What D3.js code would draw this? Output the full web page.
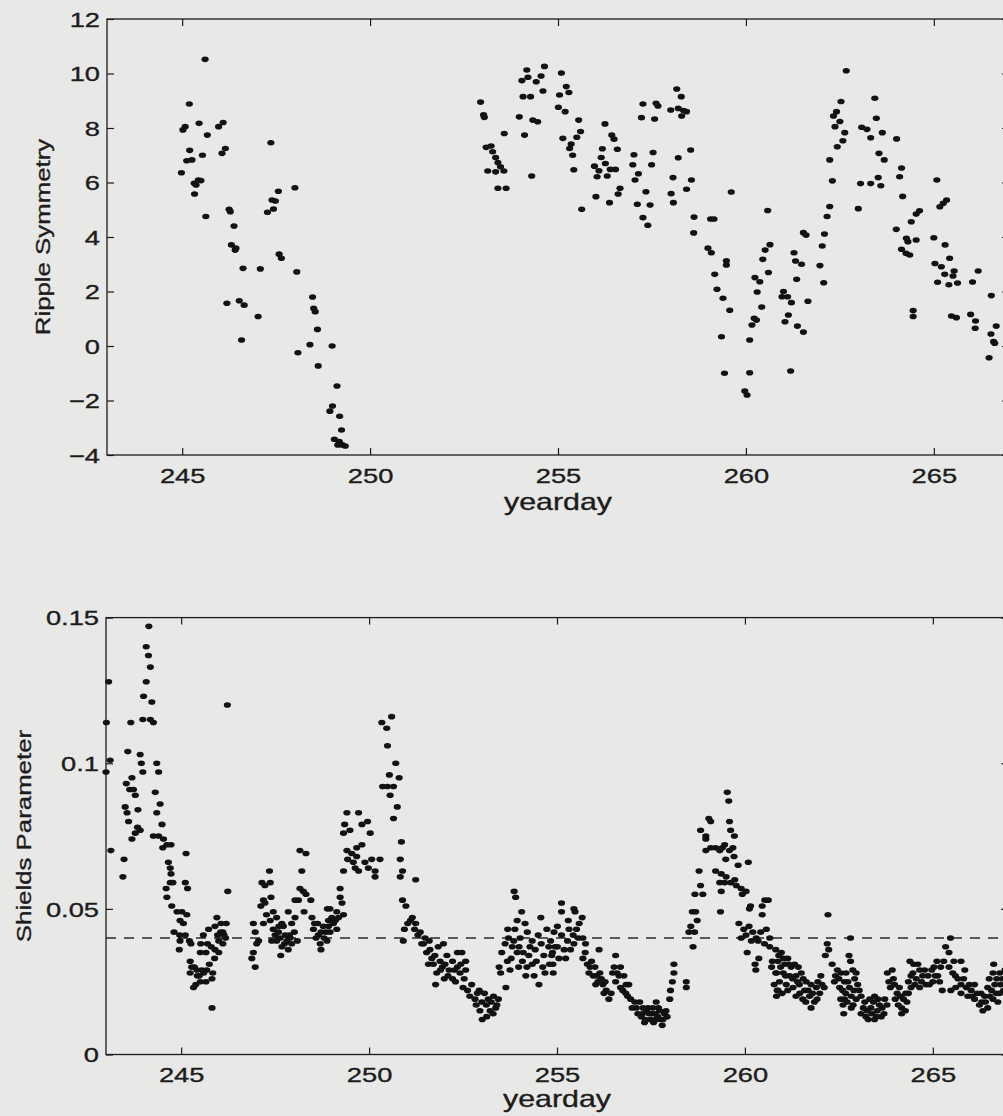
<!DOCTYPE html>
<html>
<head>
<meta charset="utf-8">
<title>Ripple Symmetry and Shields Parameter</title>
<script src="https://cdn.jsdelivr.net/npm/d3@7"></script>
<style>
    body { margin: 0; background: #e8e8e6; }
    svg text { font-family: "Liberation Sans", Arial, Helvetica, sans-serif; fill: #1c1c1c; stroke: #1c1c1c; stroke-width: 0.35px; }
</style>
</head>
<body>
<svg id="chart" width="1003" height="1116"></svg>
<script>

// ---- data: [yearday, value] ----
var dayDomain = [243, 267];
var dayTicks = [245, 250, 255, 260, 265];

var rippleTicks = [-4, -2, 0, 2, 4, 6, 8, 10, 12];
var rippleData = [
    [245.19,8.88],[245.02,7.93],[245.08,8.05],[245.45,8.17],[245.97,8.05],[246.09,8.2],[245.67,7.74],[247.36,7.46],
    [245.2,7.18],[245.54,7.0],[246.15,7.25],[246.06,7.07],[245.12,6.8],[245.26,6.83],[244.98,6.36],[245.32,5.97],
    [245.43,6.09],[245.5,6.07],[245.37,5.91],[245.33,5.58],[247.56,5.68],[248.0,5.81],[247.39,5.36],[247.48,5.32],
    [247.43,5.03],[247.27,4.91],[246.25,5.02],[246.28,4.93],[245.63,4.75],[246.38,4.4],[246.31,3.71],[246.43,3.59],
    [246.41,3.52],[247.58,3.37],[247.64,3.22],[246.62,2.85],[247.08,2.83],[248.05,2.72],[248.47,1.8],[248.5,1.38],
    [248.54,1.26],[246.19,1.57],[246.52,1.66],[246.65,1.5],[247.02,1.08],[248.6,0.61],[246.58,0.22],[248.4,0.05],
    [248.99,0.0],[248.08,-0.25],[248.62,-0.73],[249.12,-1.47],[249.0,-2.2],[248.93,-2.39],[249.19,-2.58],[249.24,-3.08],
    [249.05,-3.42],[249.18,-3.51],[249.26,-3.63],[249.34,-3.67],[249.14,-3.63],[245.61,10.52],
    [252.94,8.95],[253.02,8.48],[253.04,8.39],[253.57,7.8],[254.11,7.74],
    [253.09,7.29],[253.22,7.34],[253.26,7.13],[253.34,6.92],[253.4,6.73],[253.47,6.58],[253.56,6.42],[253.13,6.42],[253.34,6.39],
    [253.4,5.79],[253.62,5.79],[254.3,6.24],
    [254.17,10.13],[254.64,10.26],[254.04,9.74],[254.2,9.86],[254.42,9.7],[254.55,9.91],[255.09,10.02],[254.07,9.15],
    [254.27,9.15],[254.6,9.36],[255.04,9.21],[255.22,9.52],[255.29,9.3],[253.97,8.41],[254.33,8.29],[254.46,8.23],
    [255.01,8.76],[255.19,8.6],
    [255.55,8.29],[255.6,7.87],[255.5,7.66],[255.13,7.62],[255.35,7.41],[255.31,7.25],[255.39,7.0],[255.42,6.47],[255.63,5.02],
    [256.25,8.15],[256.43,7.74],[256.49,7.59],[256.18,7.24],[256.58,7.22],
    [256.15,6.92],[256.26,6.7],[255.97,6.6],[256.09,6.43],[256.39,6.48],[256.53,6.48],[256.04,6.21],[256.31,6.24],
    [256.65,5.79],[256.6,5.58],[256.01,5.48],[256.37,5.26],
    [257.02,7.02],[257.53,7.1],[256.99,6.65],[257.49,6.65],[257.14,6.32],[257.05,6.09],[257.34,5.66],[257.11,5.2],
    [257.45,5.17],[257.26,4.71],[257.39,4.43],
    [257.26,8.88],[257.61,8.91],[257.66,8.81],[257.22,8.38],[257.57,8.33],
    [258.16,9.43],[258.28,9.15],[258.0,8.66],[258.2,8.72],[258.34,8.64],[258.42,8.6],[258.29,8.44],
    [258.53,7.19],[258.2,6.91],[258.06,6.18],[258.55,6.09],[258.42,5.75],[258.01,5.59],[258.07,5.26],[258.62,4.73],[258.61,4.15],
    [259.06,4.66],[259.15,4.66],[258.99,3.59],[259.08,3.42],[259.48,3.13],[259.48,2.97],[259.61,5.65],[259.17,2.63],
    [259.23,2.08],[259.39,1.75],[259.57,1.31],[259.35,0.34],[259.43,-1.0],[260.1,-0.98],[259.97,-1.65],[260.03,-1.8],
    [260.1,0.22],[260.16,0.77],[260.28,0.95],[260.22,1.02],[260.42,1.43],[260.3,1.98],[260.24,2.51],[260.37,2.36],
    [260.6,2.7],[260.45,3.18],[260.51,3.52],[260.64,3.72],[260.58,4.97],
    [261.0,2.0],[260.96,1.81],[261.11,1.81],[261.21,1.59],[261.13,1.14],[261.04,0.89],[261.37,0.73],[261.53,0.51],
    [261.19,-0.92],[261.35,2.45],[261.28,3.42],[261.32,3.12],[261.48,3.0],[261.65,1.64],[261.53,4.16],[261.6,4.07],
    [261.97,2.95],[262.07,2.32],[262.03,3.67],[262.09,4.11],[262.16,4.75],[262.23,5.12],[262.3,6.06],[262.23,6.83],
    [262.43,7.31],[262.58,7.53],[262.63,7.83],[262.37,8.05],[262.5,8.24],[262.41,8.6],[262.33,8.44],[262.53,8.97],[262.67,10.1],
    [262.99,5.04],[263.05,5.96],[263.32,5.96],[263.59,5.88],[263.52,6.18],
    [263.08,8.03],[263.22,7.95],[263.32,7.64],[263.43,9.09],[263.47,8.36],[263.63,7.83],[263.54,7.07],[263.68,6.83],
    [264.01,7.6],[264.14,6.53],[264.09,6.21],[264.17,5.49],[264.0,4.28],[264.4,4.56],[264.53,4.84],[264.62,4.96],
    [264.27,3.95],[264.31,3.83],[264.53,3.89],[264.14,3.55],[264.26,3.4],[264.36,3.34],[264.45,1.3],[264.45,1.08],
    [265.08,6.09],[265.25,5.24],[265.34,5.36],[265.16,5.11],[265.0,3.97],[265.3,3.71],[265.42,3.22],[265.03,3.03],
    [265.2,2.91],[265.29,2.63],[265.54,2.75],[265.51,2.57],[265.1,2.34],[265.4,2.25],[265.63,2.31],[266.03,2.35],
    [266.18,2.75],[265.47,1.1],[265.6,1.04],[265.98,1.16],[266.11,0.92],[266.1,0.65],[266.53,1.85],[266.66,0.73],
    [266.52,0.44],[266.59,0.16],[266.62,0.1],[266.47,-0.43]
];

var shieldsTicks = [0, 0.05, 0.1, 0.15];
var shieldsThreshold = 0.04;
var shieldsData = [
    [243.07,0.128],[243.01,0.114],[243.11,0.101],[243.0,0.097],[243.13,0.070],[243.48,0.067],[243.45,0.061],
    [243.66,0.114],[243.58,0.104],[243.91,0.103],[243.94,0.100],[243.98,0.097],
    [243.54,0.093],[243.69,0.095],[243.73,0.091],[243.78,0.089],[243.63,0.091],
    [243.51,0.085],[243.56,0.083],[243.85,0.084],
    [243.60,0.080],[243.84,0.078],[243.91,0.077],[243.69,0.074],[243.78,0.076],
    [244.14,0.147],[244.07,0.140],[244.13,0.137],[244.18,0.133],[244.07,0.128],[244.0,0.123],[244.22,0.121],
    [243.98,0.115],[244.18,0.115],[244.26,0.114],
    [244.35,0.100],[244.40,0.097],[244.31,0.090],[244.44,0.086],[244.35,0.083],
    [244.49,0.079],[244.26,0.075],[244.40,0.075],[244.53,0.074],[244.62,0.072],[244.73,0.072],[244.51,0.071],
    [244.66,0.066],[244.71,0.064],[244.73,0.062],
    [245.13,0.069],[245.11,0.059],[245.17,0.057],
    [244.71,0.059],[244.60,0.057],[244.62,0.054],[244.78,0.059],
    [244.75,0.051],[244.89,0.049],[245.02,0.049],[245.15,0.048],[244.97,0.046],[245.06,0.045],
    [246.23,0.120],[246.24,0.056],
    [244.81,0.042],[244.96,0.041],[245.11,0.041],[245.22,0.039],[244.97,0.039],[245.26,0.038],[244.95,0.036],
    [245.95,0.047],
    [245.73,0.043],[245.90,0.044],[246.06,0.045],[246.20,0.045],[246.11,0.042],[245.97,0.041],[246.14,0.041],[246.0,0.039],
    [245.59,0.041],[245.52,0.038],[245.70,0.038],[245.51,0.035],[245.66,0.035],[245.90,0.036],[246.11,0.038],
    [245.24,0.032],[245.28,0.030],[245.42,0.029],[245.55,0.029],[245.24,0.028],[245.43,0.027],[245.68,0.029],
    [245.84,0.028],[245.82,0.026],[245.66,0.025],[245.51,0.025],[245.33,0.023],[245.39,0.024],
    [245.82,0.016],[245.89,0.033],[246.0,0.035],
    [245.35,0.030],[245.48,0.027],[245.60,0.028],[245.75,0.031],[245.80,0.037],[246.05,0.042],[246.18,0.040],
    [246.92,0.045],[246.97,0.042],[247.06,0.039],[247.01,0.038],[246.92,0.035],[246.88,0.033],[246.97,0.030],
    [247.35,0.063],[247.15,0.059],[247.23,0.058],[247.37,0.059],
    [247.19,0.053],[247.12,0.051],[247.23,0.052],[247.39,0.054],
    [247.45,0.049],[247.27,0.048],[247.37,0.046],[247.19,0.045],
    [247.54,0.047],[247.68,0.045],[247.85,0.049],[248.03,0.047],[247.94,0.045],
    [247.45,0.043],[247.59,0.042],[247.72,0.044],[247.77,0.041],[247.63,0.040],[247.81,0.039],[247.94,0.038],
    [247.68,0.037],[247.54,0.039],[247.41,0.039],[248.09,0.039],[247.88,0.041],[248.01,0.042],[247.65,0.034],[247.85,0.036],
    [247.50,0.041],[247.60,0.044],[247.75,0.038],[247.90,0.040],
    [248.16,0.070],[248.32,0.069],[248.21,0.063],
    [248.16,0.057],[248.25,0.056],[248.12,0.053],[248.03,0.053],[248.32,0.055],[248.45,0.053],
    [248.27,0.049],
    [248.48,0.047],[248.63,0.045],[248.52,0.043],[248.72,0.042],[248.59,0.040],[248.80,0.040],[248.70,0.038],
    [248.72,0.036],[248.89,0.050],[248.92,0.046],
    [248.55,0.045],[248.65,0.041],[248.78,0.044],[248.85,0.042],
    [249.23,0.057],[249.23,0.054],[248.96,0.050],[249.14,0.049],[249.01,0.047],[249.19,0.047],[249.05,0.045],
    [248.92,0.044],[249.14,0.043],[248.96,0.042],[248.88,0.039],
    [249.10,0.046],[249.28,0.052],[249.32,0.048],
    [249.41,0.083],[249.72,0.083],[249.96,0.080],[249.35,0.079],[249.49,0.077],[249.81,0.079],[250.03,0.076],[249.32,0.076],
    [249.41,0.070],[249.54,0.069],[249.67,0.071],[249.81,0.072],[249.67,0.068],[249.58,0.066],[249.43,0.067],
    [249.72,0.063],[249.32,0.063],[250.07,0.067],[250.29,0.067],[250.16,0.063],[249.89,0.066],[249.98,0.064],
    [249.63,0.064],[250.16,0.061],
    [250.60,0.116],[250.34,0.114],[250.47,0.112],[250.49,0.106],[250.71,0.100],[250.54,0.096],[250.80,0.095],
    [250.36,0.092],[250.49,0.092],[250.65,0.092],[250.56,0.089],[250.75,0.085],[250.65,0.081],[250.86,0.073],
    [250.83,0.067],[250.89,0.063],[250.83,0.061],[251.24,0.060],
    [250.89,0.053],[250.98,0.051],[251.15,0.047],[251.03,0.045],[251.24,0.045],[251.21,0.043],[250.94,0.043],
    [251.36,0.042],[251.49,0.040],[251.40,0.038],[251.60,0.039],[250.91,0.039],
    [251.53,0.035],[251.67,0.033],[251.84,0.037],[251.98,0.038],[251.71,0.031],[251.89,0.032],[252.07,0.034],
    [251.80,0.028],[251.95,0.030],[252.13,0.029],[252.22,0.032],[252.35,0.035],[252.47,0.035],[252.57,0.032],
    [252.35,0.030],[252.42,0.028],[252.22,0.026],[252.0,0.026],[251.77,0.024],[252.57,0.029],[252.53,0.026],[251.58,0.031],
    [251.10,0.046],[251.30,0.041],[251.45,0.038],[251.62,0.036],[251.75,0.034],[251.90,0.029],[252.02,0.031],
    [252.10,0.027],[252.27,0.029],[252.30,0.025],[252.44,0.031],[252.50,0.023],[252.62,0.022],[252.68,0.020],
    [252.73,0.024],[252.93,0.022],[253.07,0.021],[252.82,0.019],[253.0,0.018],[253.17,0.019],[253.31,0.020],
    [253.44,0.019],[253.37,0.016],[253.22,0.015],[252.95,0.015],[253.01,0.012],
    [252.85,0.017],[252.88,0.021],[253.12,0.017],[253.25,0.018],[253.40,0.017],[253.30,0.014],[253.13,0.013],
    [253.86,0.056],[253.90,0.054],[254.06,0.049],[253.94,0.046],[253.69,0.043],[254.15,0.045],[253.88,0.043],
    [253.71,0.040],[254.02,0.040],[254.21,0.042],[253.62,0.038],[253.81,0.037],[253.53,0.035],[253.94,0.035],
    [253.68,0.032],[253.46,0.030],[253.75,0.029],[253.50,0.028],[253.64,0.023],[254.08,0.032],[254.34,0.039],
    [254.50,0.041],[254.57,0.047],[254.73,0.043],[254.65,0.034],[254.86,0.034],[254.34,0.031],[254.68,0.028],
    [254.90,0.028],[254.17,0.027],[254.39,0.027],[254.52,0.024],
    [253.78,0.033],[253.85,0.039],[253.99,0.037],[254.10,0.035],[254.25,0.034],[254.28,0.037],[254.42,0.036],
    [254.45,0.032],[254.58,0.038],[254.62,0.030],[254.78,0.037],[254.80,0.031],[254.95,0.037],[255.28,0.039],
    [255.52,0.043],[255.30,0.046],[254.20,0.030],[253.98,0.030],
    [255.12,0.052],[255.12,0.049],[255.45,0.050],[255.48,0.049],[255.67,0.047],[255.59,0.045],
    [255.01,0.044],[254.92,0.042],[255.12,0.041],[255.32,0.043],[255.43,0.041],[255.57,0.040],[255.69,0.040],
    [254.83,0.039],[255.01,0.037],[254.88,0.035],[255.19,0.036],[255.36,0.036],[255.45,0.038],[255.05,0.033],
    [255.23,0.033],[254.89,0.031],[255.76,0.038],[256.12,0.036],
    [255.69,0.033],[255.81,0.031],[255.92,0.032],[256.01,0.030],[255.85,0.028],[255.96,0.027],[256.14,0.028],
    [256.09,0.025],[256.22,0.024],[256.31,0.022],[256.38,0.019],[256.25,0.021],[256.03,0.024],
    [256.56,0.034],[256.52,0.030],[256.69,0.030],[256.65,0.027],[256.78,0.027],[256.56,0.025],[256.84,0.024],
    [256.69,0.023],[256.91,0.024],
    [255.75,0.035],[255.88,0.030],[256.05,0.027],[256.18,0.026],[256.28,0.025],[256.44,0.021],[256.48,0.028],
    [256.60,0.028],[256.75,0.022],[256.88,0.020],
    [256.83,0.021],[256.96,0.019],[257.07,0.018],[257.20,0.018],[257.11,0.016],[257.29,0.016],[257.38,0.015],
    [257.24,0.013],[257.45,0.014],[257.55,0.016],[257.64,0.018],[257.73,0.015],[257.86,0.014],[257.93,0.013],
    [257.76,0.012],[257.63,0.012],[257.33,0.011],[257.80,0.010],[257.49,0.012],
    [257.00,0.016],[257.15,0.014],[257.27,0.014],[257.35,0.012],[257.42,0.016],[257.52,0.014],[257.60,0.014],
    [257.68,0.013],[257.70,0.016],[257.82,0.012],[257.90,0.015],[257.57,0.011],
    [258.11,0.031],[258.11,0.028],[258.07,0.025],[258.02,0.022],[258.0,0.019],
    [258.44,0.025],[258.44,0.023],
    [258.62,0.037],[258.51,0.042],[258.66,0.042],[258.56,0.044],[258.73,0.046],[258.60,0.049],[258.69,0.049],
    [258.67,0.055],[258.88,0.055],[258.82,0.058],[258.78,0.063],
    [258.82,0.077],[258.96,0.075],[259.04,0.081],[259.09,0.080],[258.96,0.074],
    [258.96,0.070],[259.09,0.071],[259.22,0.071],[259.33,0.070],[259.40,0.071],[259.46,0.072],[259.59,0.070],
    [259.68,0.071],[259.72,0.075],[259.62,0.077],[259.59,0.080],[259.71,0.068],
    [259.53,0.090],[259.57,0.087],[259.49,0.067],[259.82,0.065],[260.09,0.066],
    [259.22,0.063],[259.37,0.062],[259.50,0.061],[259.33,0.059],[259.46,0.059],[259.62,0.059],[259.73,0.060],
    [259.77,0.058],[259.90,0.057],[260.03,0.056],[259.93,0.055],[259.37,0.056],
    [259.35,0.049],
    [260.12,0.050],[260.15,0.051],[260.46,0.051],[260.53,0.053],[260.62,0.053],[260.46,0.048],
    [259.84,0.045],[259.97,0.043],[260.11,0.044],[260.21,0.042],[260.30,0.040],[260.42,0.042],[260.57,0.043],
    [260.66,0.040],[260.03,0.041],[260.17,0.039],[260.35,0.039],[260.52,0.038],[260.66,0.037],[259.90,0.040],
    [260.06,0.035],[260.37,0.033],[260.27,0.031],[260.29,0.029],
    [260.73,0.032],[260.71,0.030],[260.82,0.028],[260.78,0.024],[260.86,0.022],[260.84,0.020],
    [262.21,0.048],[262.81,0.040],[265.47,0.040],
    [262.19,0.038],[262.23,0.036],[262.14,0.034],[262.77,0.034],[262.81,0.032],
    [265.34,0.037],[265.43,0.035],[265.29,0.032],[265.56,0.032],[265.11,0.032],[265.75,0.032],[265.43,0.030],
    [265.21,0.030],[265.03,0.030],
    [260.82,0.036],[260.97,0.035],[261.14,0.033],[260.88,0.032],[261.06,0.031],[261.23,0.030],[261.32,0.031],
    [260.84,0.028],[261.02,0.028],[261.19,0.027],[261.36,0.027],[261.50,0.028],[260.92,0.025],[261.10,0.024],
    [261.28,0.023],[261.45,0.024],[261.63,0.025],[261.76,0.024],[261.94,0.025],[262.11,0.023],[262.02,0.027],
    [261.59,0.022],[261.72,0.020],[261.85,0.018],[261.99,0.021],[260.88,0.022],[261.36,0.020],[261.54,0.019],[261.76,0.016],
    [260.95,0.030],[261.08,0.027],[261.17,0.031],[261.27,0.026],[261.40,0.025],[261.55,0.026],[261.68,0.022],
    [261.80,0.021],[261.90,0.023],[262.05,0.024],[260.99,0.021],[261.14,0.022],[261.46,0.021],[261.62,0.018],
    [261.92,0.019],[261.03,0.033],[260.90,0.034],[261.42,0.030],
    [262.32,0.031],[262.46,0.029],[262.56,0.028],[262.41,0.027],[262.69,0.028],[262.87,0.029],[262.96,0.028],
    [262.65,0.025],[262.52,0.023],[262.78,0.023],[263.0,0.024],[262.68,0.021],[262.83,0.020],[262.65,0.019],
    [262.96,0.019],[263.09,0.020],[262.61,0.017],[262.63,0.014],[262.83,0.016],
    [262.38,0.025],[262.50,0.026],[262.60,0.022],[262.74,0.025],[262.90,0.022],[262.92,0.026],[263.04,0.022],
    [262.72,0.018],[262.88,0.017],[262.55,0.019],
    [263.19,0.018],[263.32,0.019],[263.45,0.020],[263.54,0.019],[263.25,0.015],[263.38,0.014],[263.52,0.015],
    [263.65,0.016],[263.78,0.017],[263.28,0.012],[263.45,0.012],[263.63,0.013],[263.09,0.014],
    [263.15,0.016],[263.22,0.013],[263.35,0.016],[263.42,0.018],[263.50,0.013],[263.58,0.017],[263.70,0.014],[263.72,0.019],
    [263.79,0.028],[263.92,0.029],[263.83,0.025],[263.98,0.024],[263.87,0.023],[264.11,0.023],[264.14,0.020],
    [264.0,0.019],[264.17,0.016],[264.17,0.014],[264.28,0.021],[264.42,0.023],[264.42,0.027],[264.49,0.031],
    [264.65,0.029],[264.56,0.026],[264.73,0.027],[264.82,0.024],[264.65,0.023],[264.97,0.029],[265.06,0.027],
    [264.91,0.024],[265.25,0.022],[264.31,0.018],[264.27,0.015],[264.39,0.032],
    [263.95,0.026],[264.05,0.021],[264.08,0.017],[264.22,0.019],[264.35,0.025],[264.47,0.028],[264.52,0.024],
    [264.60,0.031],[264.70,0.025],[264.78,0.029],[264.87,0.027],[265.00,0.025],[265.13,0.027],[265.18,0.025],[264.35,0.021],
    [265.60,0.027],[265.75,0.024],[265.89,0.023],[266.02,0.022],[266.11,0.024],[265.93,0.020],[266.11,0.019],
    [266.24,0.017],[266.33,0.015],[266.46,0.016],[266.38,0.020],[266.56,0.022],[266.65,0.024],[266.60,0.028],
    [266.62,0.031],[266.78,0.028],[266.80,0.024],[266.78,0.021],[266.73,0.018],[266.60,0.019],[266.46,0.023],
    [266.28,0.021],[265.75,0.021],[265.61,0.023],[265.48,0.022],
    [265.53,0.028],[265.67,0.026],[265.82,0.026],[265.97,0.024],[266.05,0.020],[266.18,0.021],[266.30,0.018],
    [266.40,0.018],[266.52,0.020],[266.70,0.026],[266.85,0.026],[266.88,0.022],[266.69,0.021],[266.92,0.029],
    [265.85,0.029],[266.50,0.026]
];

var svg = d3.select("#chart");
var ink = "#1c1c1c";
var textStretch = 1.3;

function drawPanel(p) {
    var x = d3.scaleLinear().domain(dayDomain).range([p.left, p.right]);
    var y = d3.scaleLinear().domain(p.yDomain).range([p.bottom, p.top]);
    var g = svg.append("g");

    // inward ticks on all four sides, labels only bottom/left
    var bottomAxis = g.append("g").attr("transform", "translate(0," + p.bottom + ")")
        .call(d3.axisBottom(x).tickValues(dayTicks).tickSizeInner(-7).tickSizeOuter(0));
    g.append("g").attr("transform", "translate(0," + p.top + ")")
        .call(d3.axisTop(x).tickValues(dayTicks).tickSizeInner(-7).tickSizeOuter(0).tickFormat(""));
    var leftAxis = g.append("g").attr("transform", "translate(" + p.left + ",0)")
        .call(d3.axisLeft(y).tickValues(p.yTicks).tickSizeInner(-7).tickSizeOuter(0).tickFormat(p.fmt));
    g.append("g").attr("transform", "translate(" + p.right + ",0)")
        .call(d3.axisRight(y).tickValues(p.yTicks).tickSizeInner(-7).tickSizeOuter(0).tickFormat(""));

    g.selectAll(".domain").remove();
    g.selectAll(".tick line").attr("stroke", ink).attr("stroke-width", 1.2);

    bottomAxis.selectAll("text")
        .attr("y", null).attr("dy", null)
        .attr("transform", "translate(0," + p.xLabelDy + ") scale(" + textStretch + ",1)")
        .style("font-size", "21px").attr("fill", ink);
    leftAxis.selectAll("text")
        .attr("x", null).attr("dy", "0.35em")
        .attr("transform", "translate(-7,0) scale(" + textStretch + ",1)")
        .style("font-size", "21px").attr("fill", ink);

    // box
    g.append("rect")
        .attr("x", p.left).attr("y", p.top)
        .attr("width", p.right - p.left).attr("height", p.bottom - p.top)
        .attr("fill", "none").attr("stroke", ink).attr("stroke-width", 1.3);

    if (p.threshold != null) {
        g.append("line")
            .attr("x1", p.left).attr("x2", p.right)
            .attr("y1", y(p.threshold)).attr("y2", y(p.threshold))
            .attr("stroke", "#2a2a2a").attr("stroke-width", 1.3)
            .attr("stroke-dasharray", "10,8");
    }

    g.append("g").selectAll("ellipse")
        .data(p.data)
        .enter().append("ellipse")
        .attr("cx", function (d) { return x(d[0]); })
        .attr("cy", function (d) { return y(d[1]); })
        .attr("rx", 3.6).attr("ry", 2.8)
        .attr("fill", "#121212");

    g.append("text")
        .attr("transform", "translate(" + ((p.left + p.right) / 2) + "," + p.titleY + ") scale(1.32,1)")
        .attr("text-anchor", "middle")
        .style("font-size", "23px")
        .text("yearday");

    g.append("text")
        .attr("transform", "translate(" + p.yLabelX + "," + ((p.top + p.bottom) / 2) + ") rotate(-90) scale(1.23,1)")
        .attr("text-anchor", "middle")
        .style("font-size", "21px")
        .text(p.yLabel);
}

drawPanel({
    left: 107, right: 1009, top: 19, bottom: 455,
    yDomain: [-4, 12], yTicks: rippleTicks, fmt: d3.format(""),
    data: rippleData, yLabel: "Ripple Symmetry", yLabelX: 50,
    xLabelDy: 28, titleY: 510, threshold: null
});

drawPanel({
    left: 106, right: 1008, top: 617.6, bottom: 1054.5,
    yDomain: [0, 0.15], yTicks: shieldsTicks, fmt: function (d) { return d === 0 ? "0" : String(d); },
    data: shieldsData, yLabel: "Shields Parameter", yLabelX: 31,
    xLabelDy: 27, titleY: 1107, threshold: shieldsThreshold
});

</script>
</body>
</html>
